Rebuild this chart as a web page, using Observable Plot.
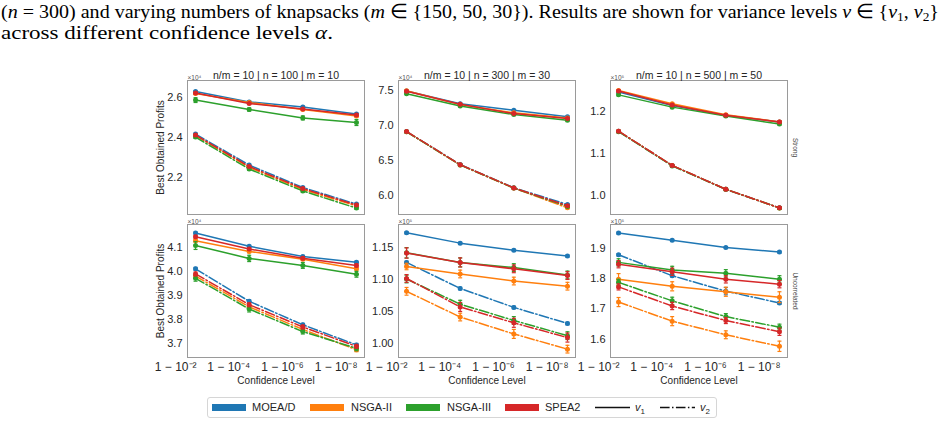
<!DOCTYPE html>
<html><head><meta charset="utf-8">
<script src="https://cdn.jsdelivr.net/npm/d3@7"></script>
<script src="https://cdn.jsdelivr.net/npm/@observablehq/plot@0.6"></script>
<style>
body{margin:0;background:#fff;}
#root{position:relative;width:947px;height:425px;overflow:hidden;background:#fff;font-family:"Liberation Sans",Arial,sans-serif;}
#root svg.p{position:absolute;overflow:visible;}
#head text{font-family:"Liberation Serif","Times New Roman",serif;}
#legend{position:absolute;left:207px;top:397px;width:510px;height:21px;border:1px solid #d6d6d6;border-radius:3px;box-sizing:border-box;}
#legend .it{position:absolute;top:0;height:19px;line-height:19px;font-size:11px;color:#262626;white-space:nowrap;}
#legend .sw{position:absolute;top:6px;height:7px;}
</style></head><body><div id="root"></div>
<script>
// ---------- data ----------
const levels = [2, 4, 6, 8];                       // confidence level = 1 - 10^-k
const levelLabels = ["1 − 10⁻²", "1 − 10⁻⁴", "1 − 10⁻⁶", "1 − 10⁻⁸"];
const algorithms = ["MOEA/D", "NSGA-II", "NSGA-III", "SPEA2"];
const algColors = ["#1f77b4", "#ff7f0e", "#2ca02c", "#d62728"];
const panelTitles = ["n/m = 10 | n = 100 | m = 10", "n/m = 10 | n = 300 | m = 30", "n/m = 10 | n = 500 | m = 50"];
const rowLabels = ["Strong", "Uncorrelated"];
const multLabels = ["×10⁴", "×10⁴", "×10⁵", "×10⁴", "×10⁵", "×10⁵"];

// Strong, n=100 (×10^4); rows: MOEA/D, NSGA-II, NSGA-III, SPEA2
const strong100_v1 = [[2.630, 2.578, 2.553, 2.517], [2.620, 2.575, 2.540, 2.507], [2.587, 2.540, 2.498, 2.475], [2.622, 2.570, 2.542, 2.513]];
const strong100_v2 = [[2.417, 2.262, 2.150, 2.067], [2.410, 2.250, 2.140, 2.058], [2.402, 2.242, 2.133, 2.047], [2.412, 2.255, 2.145, 2.062]];
const strong100_e1 = [[0.004, 0.004, 0.004, 0.004], [0.004, 0.004, 0.004, 0.004], [0.012, 0.008, 0.010, 0.015], [0.004, 0.004, 0.005, 0.005]];
const strong100_e2 = [[0.004, 0.004, 0.004, 0.004], [0.004, 0.004, 0.004, 0.004], [0.006, 0.006, 0.006, 0.006], [0.004, 0.004, 0.004, 0.004]];
// Strong, n=300 (×10^4)
const strong300_v1 = [[7.490, 7.310, 7.217, 7.123], [7.495, 7.297, 7.180, 7.108], [7.453, 7.278, 7.156, 7.075], [7.486, 7.302, 7.170, 7.100]];
const strong300_v2 = [[6.915, 6.445, 6.115, 5.877], [6.912, 6.440, 6.110, 5.830], [6.910, 6.440, 6.110, 5.850], [6.915, 6.443, 6.113, 5.860]];
const strong300_e1 = [[0.008, 0.008, 0.008, 0.008], [0.008, 0.008, 0.008, 0.008], [0.010, 0.010, 0.010, 0.010], [0.008, 0.008, 0.008, 0.008]];
const strong300_e2 = [[0.008, 0.008, 0.008, 0.008], [0.008, 0.008, 0.008, 0.010], [0.008, 0.008, 0.008, 0.008], [0.008, 0.008, 0.008, 0.008]];
// Strong, n=500 (×10^5)
const strong500_v1 = [[1.246, 1.214, 1.190, 1.175], [1.2496, 1.218, 1.192, 1.175], [1.239, 1.210, 1.189, 1.170], [1.248, 1.215, 1.191, 1.175]];
const strong500_v2 = [[1.153, 1.072, 1.0157, 0.9717], [1.153, 1.072, 1.0157, 0.9715], [1.152, 1.071, 1.0155, 0.9715], [1.153, 1.072, 1.0157, 0.9717]];
const strong500_e1 = [[0.002, 0.002, 0.002, 0.002], [0.002, 0.002, 0.002, 0.002], [0.002, 0.002, 0.002, 0.002], [0.002, 0.002, 0.002, 0.002]];
const strong500_e2 = [[0.002, 0.002, 0.002, 0.002], [0.002, 0.002, 0.002, 0.002], [0.002, 0.002, 0.002, 0.002], [0.002, 0.002, 0.002, 0.002]];
// Uncorrelated, n=100 (×10^4)
const unc100_v1 = [[4.158, 4.103, 4.061, 4.0375], [4.126, 4.082, 4.050, 4.010], [4.106, 4.053, 4.024, 3.9875], [4.142, 4.092, 4.054, 4.024]];
const unc100_v2 = [[4.010, 3.876, 3.779, 3.696], [3.980, 3.853, 3.760, 3.676], [3.971, 3.844, 3.751, 3.682], [3.989, 3.862, 3.770, 3.690]];
const unc100_e1 = [[0.004, 0.004, 0.004, 0.004], [0.005, 0.005, 0.005, 0.005], [0.016, 0.013, 0.012, 0.012], [0.006, 0.005, 0.006, 0.006]];
const unc100_e2 = [[0.006, 0.006, 0.006, 0.006], [0.008, 0.008, 0.008, 0.008], [0.012, 0.012, 0.010, 0.010], [0.008, 0.008, 0.008, 0.008]];
// Uncorrelated, n=300 (×10^5)
const unc300_v1 = [[1.172, 1.156, 1.145, 1.136], [1.1196, 1.108, 1.097, 1.089], [1.141, 1.126, 1.118, 1.1065], [1.1406, 1.126, 1.116, 1.1055]];
const unc300_v2 = [[1.126, 1.0855, 1.056, 1.031], [1.081, 1.041, 1.0147, 0.991], [1.1002, 1.061, 1.0357, 1.012], [1.101, 1.0567, 1.032, 1.009]];
const unc300_e1 = [[0.0015, 0.0015, 0.0015, 0.0015], [0.005, 0.006, 0.006, 0.006], [0.008, 0.007, 0.006, 0.006], [0.008, 0.007, 0.006, 0.006]];
const unc300_e2 = [[0.002, 0.002, 0.002, 0.002], [0.006, 0.006, 0.007, 0.006], [0.006, 0.006, 0.006, 0.006], [0.006, 0.007, 0.007, 0.007]];
// Uncorrelated, n=500 (×10^5)
const unc500_v1 = [[1.950, 1.926, 1.902, 1.887], [1.797, 1.774, 1.756, 1.738], [1.853, 1.828, 1.817, 1.797], [1.847, 1.822, 1.797, 1.781]];
const unc500_v2 = [[1.878, 1.809, 1.758, 1.719], [1.722, 1.659, 1.614, 1.576], [1.787, 1.726, 1.674, 1.639], [1.772, 1.709, 1.661, 1.624]];
const unc500_e1 = [[0.003, 0.003, 0.003, 0.003], [0.019, 0.015, 0.015, 0.018], [0.012, 0.012, 0.012, 0.012], [0.012, 0.012, 0.012, 0.012]];
const unc500_e2 = [[0.004, 0.004, 0.012, 0.004], [0.015, 0.015, 0.013, 0.017], [0.010, 0.012, 0.010, 0.010], [0.010, 0.012, 0.010, 0.012]];

// y-axis domains and ticks (in panel multiplier units)
const yDomains = [[2.015, 2.685], [5.735, 7.64], [0.956, 1.273], [3.644, 4.193], [0.978, 1.185], [1.539, 1.978]];
const yTicks = [[2.2, 2.4, 2.6], [6.0, 6.5, 7.0, 7.5], [1.0, 1.1, 1.2], [3.7, 3.8, 3.9, 4.0, 4.1], [1.00, 1.05, 1.10, 1.15], [1.6, 1.7, 1.8, 1.9]];
const yFormats = [".1f", ".1f", ".1f", ".1f", ".2f", ".1f"];

const panelData = [
  [strong100_v1, strong100_v2, strong100_e1, strong100_e2],
  [strong300_v1, strong300_v2, strong300_e1, strong300_e2],
  [strong500_v1, strong500_v2, strong500_e1, strong500_e2],
  [unc100_v1, unc100_v2, unc100_e1, unc100_e2],
  [unc300_v1, unc300_v2, unc300_e1, unc300_e2],
  [unc500_v1, unc500_v2, unc500_e1, unc500_e2]
];

// ---------- layout ----------
const colX = [187, 398, 610];
const rowY = [80, 224];
const frameW = 177;
const frameH = [134, 133];
const mL = 50, mR = 30, mT = 22, mB = 40;
const DASHDOT = "9.6,2.4,1.5,2.4";
const TXT = "#262626";

const cap = {draw(ctx, size) { const w = Math.sqrt(size / Math.PI); ctx.moveTo(-w, 0); ctx.lineTo(w, 0); }};

const root = document.getElementById("root");

// top paragraph text
const ns = "http://www.w3.org/2000/svg";
const headSvg = document.createElementNS(ns, "svg");
headSvg.id = "head";
headSvg.setAttribute("width", 947); headSvg.setAttribute("height", 50);
headSvg.style.position = "absolute"; headSvg.style.left = "0"; headSvg.style.top = "0";
headSvg.innerHTML = `
<text x="1" y="18" font-size="19.5" fill="#000" textLength="938" lengthAdjust="spacingAndGlyphs">(<tspan font-style="italic">n</tspan> = 300) and varying numbers of knapsacks (<tspan font-style="italic">m</tspan> ∈ {150, 50, 30}). Results are shown for variance levels <tspan font-style="italic">v</tspan> ∈ {<tspan font-style="italic">v</tspan><tspan font-size="13" dy="3">1</tspan><tspan dy="-3">, </tspan><tspan font-style="italic">v</tspan><tspan font-size="13" dy="3">2</tspan><tspan dy="-3">}</tspan></text>
<text x="1" y="39" font-size="19.5" fill="#000" textLength="332" lengthAdjust="spacingAndGlyphs">across different confidence levels <tspan font-style="italic">α</tspan>.</text>`;
root.appendChild(headSvg);

for (let p = 0; p < 6; p++) {
  const r = Math.floor(p / 3), c = p % 3;
  const [v1, v2, e1, e2] = panelData[p];
  const showX = r === 1;
  const pts = [];
  algorithms.forEach((alg, a) => {
    levels.forEach((lv, i) => {
      pts.push({a, s: 1, x: lv, y: v1[a][i], lo: v1[a][i] - e1[a][i], hi: v1[a][i] + e1[a][i]});
      pts.push({a, s: 2, x: lv, y: v2[a][i], lo: v2[a][i] - e2[a][i], hi: v2[a][i] + e2[a][i]});
    });
  });
  const marks = [Plot.frame({stroke: "#9a9a9a", strokeWidth: 1})];
  algorithms.forEach((alg, a) => {
    [1, 2].forEach(s => {
      const d = pts.filter(q => q.a === a && q.s === s);
      const col = algColors[a];
      marks.push(Plot.ruleX(d, {x: "x", y1: "lo", y2: "hi", stroke: col, strokeWidth: 1.2}));
      marks.push(Plot.dot(d, {x: "x", y: "lo", symbol: cap, r: 2, stroke: col, strokeWidth: 1.2}));
      marks.push(Plot.dot(d, {x: "x", y: "hi", symbol: cap, r: 2, stroke: col, strokeWidth: 1.2}));
      const lo = {x: "x", y: "y", stroke: col, strokeWidth: 1.5};
      if (s === 2) lo.strokeDasharray = DASHDOT;
      marks.push(Plot.line(d, lo));
      marks.push(Plot.dot(d, {x: "x", y: "y", r: 2.5, fill: col}));
    });
  });
  marks.push(Plot.axisY({ticks: yTicks[p], tickSize: 0, tickPadding: 5, tickFormat: d3.format(yFormats[p]), fontSize: 11, label: null}));
  if (showX) {
    marks.push(Plot.axisX({ticks: levels, tickSize: 0, tickPadding: 5, tickFormat: d => levelLabels[levels.indexOf(d)], textAnchor: "end", dx: 1, fontSize: 12, label: null}));
    marks.push(Plot.text(["Confidence Level"], {text: d => d, frameAnchor: "bottom", dy: 23, lineAnchor: "middle", fontSize: 10}));
  }
  marks.push(Plot.text([multLabels[p]], {text: d => d, frameAnchor: "top-left", textAnchor: "start", lineAnchor: "bottom", dy: -1, fontSize: 6.5, fill: "#555"}));
  if (r === 0) marks.push(Plot.text([panelTitles[c]], {text: d => d, frameAnchor: "top", lineAnchor: "bottom", dy: -1.5, fontSize: 10.5}));
  if (c === 0) marks.push(Plot.text(["Best Obtained Profits"], {text: d => d, frameAnchor: "left", textAnchor: "middle", lineAnchor: "middle", rotate: -90, dx: -27, fontSize: 10}));
  if (c === 2) marks.push(Plot.text([rowLabels[r]], {text: d => d, frameAnchor: "right", textAnchor: "middle", lineAnchor: "middle", rotate: 90, dx: 8, fontSize: 6.5, fill: "#444"}));

  const svg = Plot.plot({
    width: mL + frameW + mR,
    height: mT + frameH[r] + mB,
    marginLeft: mL, marginRight: mR, marginTop: mT, marginBottom: mB,
    x: {domain: [1.7, 8.3], axis: null},
    y: {domain: yDomains[p], axis: null},
    style: {color: TXT, fontFamily: "Liberation Sans, Arial, sans-serif", background: "transparent", overflow: "visible"},
    marks
  });
  svg.classList.add("p");
  svg.style.left = (colX[c] - mL) + "px";
  svg.style.top = (rowY[r] - mT) + "px";
  root.appendChild(svg);
}

// legend
const leg = document.createElement("div");
leg.id = "legend";
const items = [
  {sw: 4, tx: 44, label: "MOEA/D", color: algColors[0]},
  {sw: 102, tx: 143, label: "NSGA-II", color: algColors[1]},
  {sw: 198, tx: 239, label: "NSGA-III", color: algColors[2]},
  {sw: 297, tx: 337, label: "SPEA2", color: algColors[3]}
];
items.forEach(it => {
  const s = document.createElement("div"); s.className = "sw";
  s.style.left = it.sw + "px"; s.style.width = "34px"; s.style.background = it.color;
  leg.appendChild(s);
  const t = document.createElement("div"); t.className = "it";
  t.style.left = it.tx + "px"; t.textContent = it.label;
  leg.appendChild(t);
});
const lineItems = [{x: 387, tx: 427, dash: null, sub: "1"}, {x: 452, tx: 492, dash: DASHDOT, sub: "2"}];
lineItems.forEach(li => {
  const s = document.createElementNS(ns, "svg");
  s.setAttribute("width", 36); s.setAttribute("height", 19);
  s.style.position = "absolute"; s.style.left = li.x + "px"; s.style.top = "0";
  s.innerHTML = `<line x1="0" x2="35" y1="9.5" y2="9.5" stroke="#111" stroke-width="1.5" ${li.dash ? `stroke-dasharray="${li.dash}"` : ""}/>`;
  leg.appendChild(s);
  const t = document.createElement("div"); t.className = "it";
  t.style.left = li.tx + "px";
  t.innerHTML = `<i style="font-size:11px">v</i><sub style="font-size:8px">${li.sub}</sub>`;
  leg.appendChild(t);
});
root.appendChild(leg);
</script></body></html>
